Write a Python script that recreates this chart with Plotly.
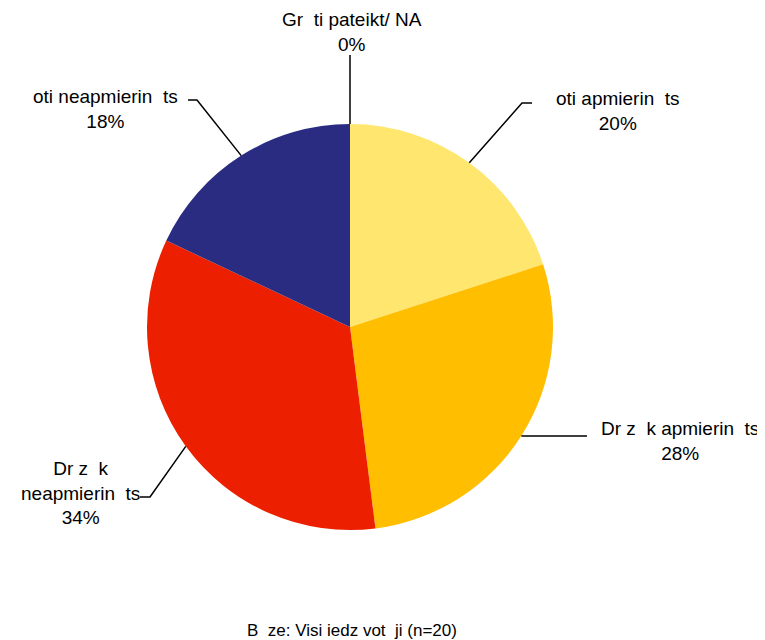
import math
import plotly.graph_objects as go

NB = "\u00a0"
labels = ["oti apmierin" + NB + " ts", "Dr z" + NB + " k apmierin" + NB + " ts",
          "Dr z" + NB + " k<br>neapmierin" + NB + " ts", "oti neapmierin" + NB + " ts",
          "Gr" + NB + " ti pateikt/ NA"]
values = [20, 28, 34, 18, 0]
colors = ["#FFE66E", "#FFBE00", "#EC2000", "#2A2C82", "#CCCCCC"]
footer = "B" + NB + " ze: Visi iedz vot" + NB + " ji (n=20)"

# page body has an 8px margin; figure is drawn from (8, 8) of the window
OFF = 8
W, H = 765 - OFF, 640 - OFF
CX, CY, R = 350, 327, 203

# label placement (window pixel space): elbow point, end of horizontal stub, text anchor
label_layout = [
    dict(elbow=(522, 103), end=(532, 103), text=(618, 111)),
    dict(elbow=(523, 436), end=(587, 436), text=(680, 441)),
    dict(elbow=(150, 497), end=(140, 497), text=(80, 493)),
    dict(elbow=(197, 100), end=(188, 100), text=(105, 109)),
    dict(elbow=(350, 55), end=(350, 55), text=(352, 32)),
]

def px(x, y):
    return (x - OFF) / W, 1 - (y - OFF) / H

x0, y1 = px(CX - R, CY - R)
x1, y0 = px(CX + R, CY + R)

fig = go.Figure()
fig.add_trace(go.Pie(
    labels=labels, values=values, sort=False, direction="clockwise", rotation=0,
    marker=dict(colors=colors, line=dict(width=0)),
    textinfo="none", hoverinfo="label+percent", showlegend=False,
    domain=dict(x=[x0, x1], y=[y0, y1]),
))

total = sum(values)
cum = 0.0
shapes, annotations = [], []
for lab, v, lay in zip(labels, values, label_layout):
    mid = (cum + v / 2) / total * 2 * math.pi
    cum += v
    ex, ey = CX + R * math.sin(mid), CY - R * math.cos(mid)
    pts = [(ex, ey), lay["elbow"], lay["end"]]
    path = "M " + " L ".join(f"{px(*p)[0]:.5f},{px(*p)[1]:.5f}" for p in pts)
    shapes.append(dict(type="path", path=path, xref="paper", yref="paper",
                       line=dict(color="black", width=1.5)))
    pct = round(v / total * 100)
    tx, ty = px(*lay["text"])
    annotations.append(dict(x=tx, y=ty, xref="paper", yref="paper", showarrow=False,
                            text=f"{lab}<br>{pct}%", align="center",
                            xanchor="center", yanchor="middle",
                            font=dict(family="Liberation Sans, Arial", size=19, color="black")))

fx, fy = px(352, 630)
annotations.append(dict(x=fx, y=fy, xref="paper", yref="paper", showarrow=False, text=footer,
                        xanchor="center", yanchor="middle",
                        font=dict(family="Liberation Sans, Arial", size=17, color="black")))

fig.update_layout(width=W, height=H, margin=dict(l=0, r=0, t=0, b=0),
                  paper_bgcolor="white", plot_bgcolor="white",
                  shapes=shapes, annotations=annotations)
fig.write_html("out.html")
